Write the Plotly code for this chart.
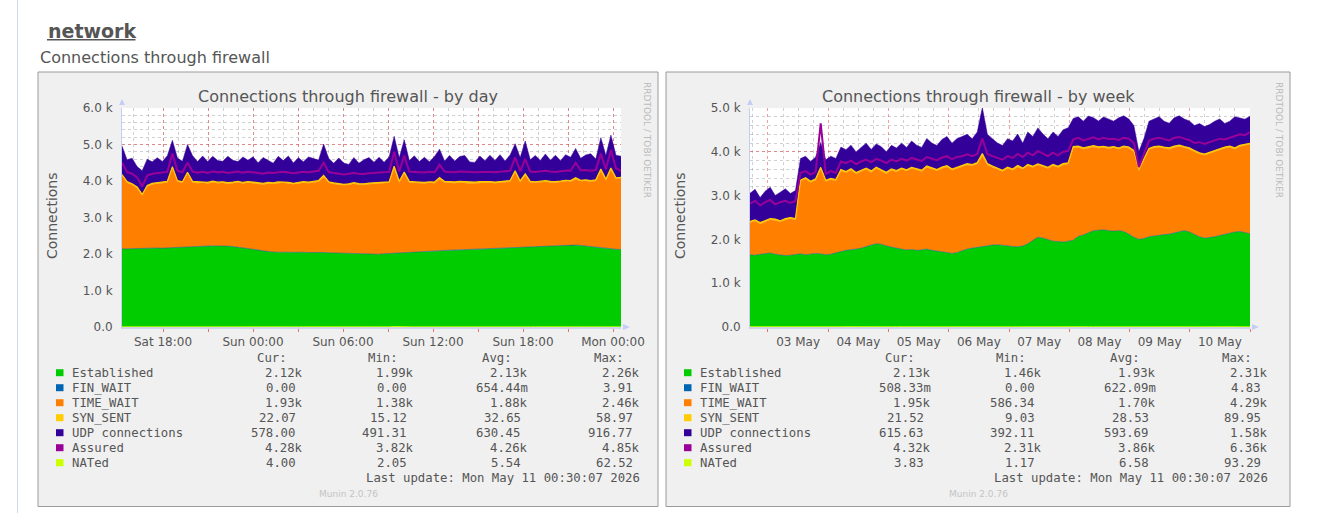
import plotly.graph_objects as go
import pandas as pd

W, H = 1331, 513

# ------------------------------------------------------------------ data
series_names = ["Established", "FIN_WAIT", "TIME_WAIT", "SYN_SENT",
                "UDP connections", "Assured", "NATed"]
series_colors = ["#00CC00", "#0066B3", "#FF8000", "#FFCC00",
                 "#330099", "#990099", "#CCFF00"]

day_start, day_end = "2026-05-09 15:16", "2026-05-11 00:32"
week_start, week_end = "2026-05-02 16:50", "2026-05-11 00:00"

day_tickvals = ["2026-05-09 18:00", "2026-05-09 21:00", "2026-05-10 00:00",
                "2026-05-10 03:00", "2026-05-10 06:00", "2026-05-10 09:00",
                "2026-05-10 12:00", "2026-05-10 15:00", "2026-05-10 18:00",
                "2026-05-10 21:00", "2026-05-11 00:00"]
day_ticktext = ["Sat 18:00", "", "Sun 00:00", "", "Sun 06:00", "",
                "Sun 12:00", "", "Sun 18:00", "", "Mon 00:00"]

day_yticks = [0, 1000, 2000, 3000, 4000, 5000, 6000]
day_ylabels = ["0.0", "1.0 k", "2.0 k", "3.0 k", "4.0 k", "5.0 k", "6.0 k"]
week_yticks = [0, 1000, 2000, 3000, 4000, 5000]
week_ylabels = ["0.0", "1.0 k", "2.0 k", "3.0 k", "4.0 k", "5.0 k"]

# ---- by day
est_day = [2140, 2150, 2145, 2150, 2155, 2150, 2160, 2165, 2160, 2170,
           2175, 2180, 2185, 2195, 2200, 2210, 2215, 2220, 2225, 2220,
           2225, 2215, 2205, 2190, 2170, 2150, 2130, 2110, 2085, 2065,
           2055, 2050, 2060, 2050, 2045, 2055, 2050, 2040, 2045, 2050,
           2040, 2035, 2030, 2025, 2020, 2015, 2020, 2010, 2005, 2010,
           2000, 1995, 2005, 2015, 2025, 2030, 2040, 2050, 2055, 2060,
           2065, 2070, 2080, 2090, 2100, 2105, 2110, 2115, 2120, 2125,
           2130, 2135, 2140, 2145, 2150, 2155, 2160, 2170, 2175, 2180,
           2190, 2195, 2200, 2205, 2210, 2215, 2220, 2230, 2240, 2255,
           2245, 2235, 2220, 2200, 2180, 2160, 2150, 2140, 2130, 2120]
fin_day = [0, 1, 0, 0, 2, 0, 1, 0, 0, 1,
           0, 0, 1, 0, 0, 1, 0, 0, 0, 1,
           0, 1, 0, 0, 1, 0, 0, 2, 0, 0,
           1, 0, 0, 1, 0, 0, 0, 1, 0, 0,
           1, 0, 0, 0, 1, 0, 2, 0, 0, 1,
           0, 0, 1, 0, 0, 1, 0, 0, 1, 0,
           0, 1, 0, 0, 0, 1, 0, 1, 0, 0,
           1, 0, 0, 1, 0, 0, 2, 0, 0, 1,
           0, 0, 1, 0, 0, 1, 0, 0, 0, 1,
           0, 1, 0, 0, 1, 0, 0, 1, 0, 0]
tw_day = [2010, 1800, 1755, 1650, 1445, 1700, 1740, 1755, 1780, 1790,
          2175, 1800, 1765, 2005, 1760, 1730, 1735, 1710, 1735, 1720,
          1725, 1705, 1735, 1770, 1760, 1800, 1810, 1810, 1815, 1865,
          1865, 1890, 1890, 1880, 1865, 1875, 1900, 1900, 1915, 1930,
          2060, 1915, 1890, 1875, 1860, 1885, 1900, 1890, 1885, 1900,
          1920, 1935, 1935, 1935, 2325, 1930, 2160, 1910, 1895, 1880,
          1865, 1880, 1860, 1960, 1860, 1845, 1830, 1845, 1830, 1805,
          1810, 1815, 1820, 1805, 1790, 1795, 1800, 1810, 2055, 1790,
          1960, 1765, 1750, 1765, 1770, 1745, 1730, 1740, 1750, 1725,
          1805, 1755, 1780, 1780, 1820, 2110, 1870, 2160, 1930, 1960]
syn_day = [28, 32, 25, 35, 30, 27, 33, 29, 36, 31,
           45, 30, 27, 40, 29, 33, 26, 31, 35, 28,
           30, 34, 27, 32, 29, 36, 31, 28, 33, 30,
           27, 35, 29, 32, 26, 30, 34, 28, 31, 33,
           50, 30, 27, 33, 29, 25, 31, 28, 32, 30,
           34, 29, 31, 27, 55, 33, 48, 30, 28, 32,
           30, 27, 33, 42, 29, 31, 35, 28, 30, 33,
           29, 32, 28, 34, 30, 31, 27, 33, 52, 30,
           45, 31, 28, 34, 30, 29, 33, 27, 31, 30,
           40, 29, 32, 28, 30, 58, 31, 56, 27, 22]
udp_day = [780, 600, 700, 560, 650, 720, 590, 690, 560, 700,
           720, 620, 560, 760, 700, 560, 710, 570, 680, 590,
           560, 720, 600, 540, 700, 580, 690, 550, 710, 600,
           540, 700, 580, 720, 560, 680, 540, 690, 620, 560,
           860, 640, 540, 700, 580, 530, 690, 560, 660, 700,
           560, 690, 540, 680, 820, 640, 880, 570, 710, 560,
           690, 550, 700, 780, 560, 720, 570, 680, 720, 560,
           540, 700, 570, 720, 590, 740, 560, 700, 740, 640,
           900, 590, 720, 560, 730, 580, 720, 560, 700, 640,
           800, 600, 680, 740, 570, 860, 650, 900, 620, 578]
assured_day = [4500, 4250, 4200, 4100, 3850, 4150, 4200, 4220, 4240, 4250,
               4750, 4280, 4240, 4500, 4260, 4230, 4250, 4220, 4260, 4240,
               4250, 4220, 4240, 4260, 4230, 4250, 4240, 4220, 4200, 4230,
               4220, 4240, 4250, 4230, 4210, 4230, 4250, 4240, 4260, 4280,
               4500, 4250, 4220, 4200, 4180, 4200, 4220, 4200, 4190, 4210,
               4220, 4230, 4240, 4250, 4800, 4260, 4700, 4260, 4250, 4240,
               4230, 4250, 4240, 4450, 4260, 4250, 4240, 4260, 4250, 4230,
               4240, 4250, 4260, 4250, 4240, 4250, 4260, 4280, 4650, 4270,
               4600, 4260, 4250, 4270, 4280, 4260, 4250, 4270, 4290, 4280,
               4500, 4290, 4300, 4280, 4300, 4750, 4320, 4850, 4350, 4280]
nated_day = [5, 4, 6, 5, 12, 4, 5, 6, 5, 4,
             6, 5, 4, 7, 5, 4, 6, 5, 4, 5,
             4, 6, 5, 4, 5, 6, 4, 5, 5, 4,
             5, 4, 6, 5, 4, 5, 6, 5, 4, 5,
             6, 5, 4, 5, 6, 4, 5, 5, 4, 6,
             5, 4, 6, 5, 14, 5, 4, 6, 5, 4,
             5, 6, 4, 5, 5, 4, 6, 5, 4, 5,
             6, 4, 5, 5, 4, 6, 5, 4, 5, 6,
             4, 5, 6, 5, 4, 5, 6, 4, 5, 5,
             4, 6, 5, 4, 5, 6, 5, 4, 5, 4]

# ---- by week
est_week = [1650, 1640, 1660, 1670, 1690, 1660, 1650, 1630, 1640, 1660,
            1670, 1650, 1660, 1680, 1670, 1650, 1660, 1700, 1720, 1750,
            1760, 1780, 1800, 1840, 1870, 1900, 1890, 1850, 1820, 1800,
            1780, 1760, 1770, 1750, 1760, 1780, 1750, 1740, 1720, 1700,
            1680, 1700, 1740, 1780, 1800, 1820, 1840, 1850, 1870, 1880,
            1860, 1850, 1840, 1830, 1850, 1900, 1980, 2050, 2030, 1990,
            1960, 1950, 1940, 1960, 1980, 2070, 2100, 2150, 2200, 2210,
            2220, 2200, 2190, 2200, 2180, 2120, 2050, 2000, 2020, 2060,
            2080, 2100, 2110, 2120, 2150, 2180, 2200, 2170, 2110, 2060,
            2030, 2040, 2060, 2090, 2120, 2150, 2170, 2180, 2160, 2130]
fin_week = [1, 0, 0, 1, 0, 2, 0, 1, 0, 0,
            1, 0, 1, 0, 0, 1, 0, 0, 2, 0,
            0, 1, 0, 1, 0, 0, 1, 0, 0, 1,
            0, 0, 1, 0, 2, 0, 1, 0, 0, 1,
            0, 1, 0, 0, 1, 0, 0, 1, 0, 0,
            1, 0, 0, 2, 0, 1, 0, 0, 1, 0,
            0, 1, 0, 0, 1, 0, 1, 0, 0, 1,
            0, 0, 1, 0, 0, 1, 0, 2, 0, 0,
            1, 0, 0, 1, 0, 0, 1, 0, 1, 0,
            0, 1, 0, 0, 1, 0, 0, 1, 0, 1]
tw_week = [730, 780, 690, 730, 760, 770, 750, 810, 830, 790,
           1660, 1730, 1640, 1670, 1930, 1670, 1700, 1640, 1840, 1770,
           1820, 1720, 1750, 1760, 1660, 1720, 1670, 1650, 1760, 1740,
           1820, 1800, 1850, 1830, 1790, 1860, 1850, 1830, 1900, 1950,
           1900, 1920, 1920, 1920, 1880, 1900, 2060, 1850, 1780, 1720,
           1690, 1770, 1740, 1820, 1750, 1780, 1660, 1650, 1630, 1630,
           1720, 1690, 1760, 1760, 2100, 2030, 1960, 1940, 1910, 1870,
           1880, 1870, 1900, 1860, 1920, 1960, 1950, 1560, 1780, 1990,
           2010, 2000, 1970, 1940, 1950, 1940, 1890, 1890, 1890, 1890,
           1890, 1920, 1940, 1960, 1960, 1950, 1890, 1940, 1990, 2040]
syn_week = [30, 25, 34, 28, 22, 31, 27, 35, 29, 26,
            24, 30, 27, 33, 45, 28, 31, 26, 35, 29,
            32, 27, 30, 25, 34, 29, 26, 31, 28, 33,
            27, 30, 24, 32, 29, 35, 28, 26, 31, 30,
            28, 33, 27, 30, 26, 32, 60, 29, 27, 31,
            25, 30, 28, 34, 27, 31, 29, 26, 33, 28,
            30, 27, 32, 29, 40, 31, 28, 26, 30, 33,
            27, 31, 29, 25, 32, 28, 30, 45, 33, 27,
            29, 32, 26, 30, 28, 31, 27, 33, 29, 25,
            28, 31, 27, 30, 26, 29, 32, 28, 25, 22]
udp_week = [640, 700, 570, 670, 720, 540, 650, 680, 550, 640,
            490, 490, 450, 500, 570, 470, 510, 480, 510, 500,
            540, 470, 520, 570, 490, 530, 530, 470, 540, 510,
            570, 510, 600, 540, 520, 630, 570, 550, 630, 670,
            590, 650, 660, 670, 590, 700, 1050, 670, 620, 570,
            570, 650, 640, 720, 570, 740, 680, 820, 710, 650,
            740, 680, 770, 800, 640, 670, 610, 700, 640, 590,
            670, 650, 580, 690, 690, 640, 570, 400, 470, 620,
            630, 670, 590, 560, 650, 670, 630, 610, 570, 670,
            630, 630, 670, 670, 540, 570, 710, 630, 570, 620]
assured_week = [2820, 2880, 2780, 2850, 2900, 2800, 2850, 2880, 2830, 2870,
                3520, 3560, 3480, 3540, 4650, 3500, 3560, 3520, 3780, 3740,
                3800, 3720, 3780, 3820, 3760, 3840, 3800, 3740, 3820, 3780,
                3840, 3800, 3860, 3820, 3790, 3880, 3840, 3810, 3870, 3900,
                3830, 3880, 3900, 3940, 3900, 3950, 4300, 3950, 3900, 3860,
                3820, 3900, 3860, 3950, 3880, 3980, 3920, 4020, 3960, 3900,
                3980, 3920, 4000, 4020, 4280, 4320, 4260, 4300, 4330, 4280,
                4320, 4290, 4300, 4270, 4320, 4300, 4200, 3650, 3950, 4250,
                4300, 4320, 4290, 4260, 4320, 4340, 4300, 4270, 4200, 4220,
                4180, 4220, 4260, 4300, 4280, 4320, 4350, 4400, 4380, 4450]
nated_week = [6, 5, 7, 6, 5, 8, 6, 5, 7, 6,
              5, 7, 6, 5, 9, 6, 7, 5, 6, 8,
              6, 5, 7, 6, 5, 6, 8, 5, 6, 7,
              5, 6, 7, 6, 5, 8, 6, 7, 5, 6,
              7, 6, 5, 7, 6, 5, 15, 6, 7, 5,
              6, 8, 5, 6, 7, 5, 6, 7, 6, 5,
              8, 6, 5, 7, 6, 5, 6, 7, 5, 6,
              7, 5, 6, 8, 6, 5, 7, 6, 5, 6,
              7, 6, 5, 6, 7, 5, 8, 6, 5, 7,
              6, 5, 7, 6, 5, 6, 7, 5, 6, 4]

day_stats = [["2.12k", "1.99k", "2.13k", "2.26k"],
             ["0.00", "0.00", "654.44m", "3.91"],
             ["1.93k", "1.38k", "1.88k", "2.46k"],
             ["22.07", "15.12", "32.65", "58.97"],
             ["578.00", "491.31", "630.45", "916.77"],
             ["4.28k", "3.82k", "4.26k", "4.85k"],
             ["4.00", "2.05", "5.54", "62.52"]]
week_stats = [["2.13k", "1.46k", "1.93k", "2.31k"],
              ["508.33m", "0.00", "622.09m", "4.83"],
              ["1.95k", "586.34", "1.70k", "4.29k"],
              ["21.52", "9.03", "28.53", "89.95"],
              ["615.63", "392.11", "593.69", "1.58k"],
              ["4.32k", "2.31k", "3.86k", "6.36k"],
              ["3.83", "1.17", "6.58", "93.29"]]
stat_headers = ["Cur:", "Min:", "Avg:", "Max:"]
last_update = "Last update: Mon May 11 00:30:07 2026"

day_cols = [est_day, fin_day, tw_day, syn_day, udp_day, assured_day, nated_day]
week_cols = [est_week, fin_week, tw_week, syn_week, udp_week, assured_week, nated_week]
for c in day_cols + week_cols:
    assert len(c) == 100, len(c)

# ------------------------------------------------------------------ helpers
# page pixel -> paper fraction (the photographed paper spans ~1307 x 499 px,
# starting ~6 px below the top of the window)
PW, PH, PTOP = 1307.0, 499.0, 6.0


def px(x):
    return x / PW


def py(y):
    return 1 - (y - PTOP) / PH


TXT = "#555555"
SANS = "DejaVu Sans"
MONO = "DejaVu Sans Mono"
RED_GRID = "rgba(235,80,80,0.55)"
GRAY_GRID = "rgba(150,150,150,0.45)"
AXIS_BLUE = "#c4cdf5"

fig = go.Figure()

day_x = pd.date_range(day_start, day_end, periods=len(est_day))
week_x = pd.date_range(week_start, week_end, periods=len(est_week))


def add_panel(xs, cols, xa, ya):
    for name, vals, color in zip(series_names[:5], cols[:5], series_colors[:5]):
        fig.add_trace(go.Scatter(
            x=xs, y=vals, xaxis=xa, yaxis=ya, name=name, stackgroup=xa,
            mode="lines", line=dict(color=color, width=1.2 if name == "SYN_SENT" else 0.5),
            fillcolor=color, hoverinfo="skip", showlegend=False))
    fig.add_trace(go.Scatter(x=xs, y=cols[5], xaxis=xa, yaxis=ya, name="Assured",
                             mode="lines", line=dict(color=series_colors[5], width=2),
                             hoverinfo="skip", showlegend=False))
    fig.add_trace(go.Scatter(x=xs, y=cols[6], xaxis=xa, yaxis=ya, name="NATed",
                             mode="lines", line=dict(color=series_colors[6], width=1),
                             hoverinfo="skip", showlegend=False))


add_panel(day_x, day_cols, "x", "y")
add_panel(week_x, week_cols, "x2", "y2")

# ------------------------------------------------------------------ axes
common_x = dict(
    type="date", showgrid=True, gridcolor=RED_GRID, griddash="dot", gridwidth=1,
    ticks="outside", ticklen=3, tickcolor="rgba(230,60,60,0.7)",
    showline=True, linecolor="#d0d4e8", linewidth=2, zeroline=False,
    layer="above traces",
    tickfont=dict(family=SANS, size=12, color=TXT), fixedrange=True,
)
common_y = dict(
    showgrid=True, gridcolor=RED_GRID, griddash="dot", gridwidth=1,
    ticks="", showline=True, linecolor=AXIS_BLUE, linewidth=1, zeroline=False,
    tickfont=dict(family=SANS, size=12, color=TXT), ticklabelstandoff=6,
    tickmode="array", minor=dict(dtick=200, showgrid=True, gridcolor=GRAY_GRID,
                                 griddash="dot", ticks=""),
    fixedrange=True,
)

plot_top, plot_bot = 107, 326
day_l, day_r = 122, 621
week_l, week_r = 750, 1250

fig.update_layout(
    xaxis=dict(common_x, domain=[px(day_l), px(day_r)], anchor="y",
               range=[day_start, day_end], tickmode="array",
               tickvals=day_tickvals, ticktext=day_ticktext,
               minor=dict(tick0="2026-05-09 00:00", dtick=3600000, showgrid=True,
                          gridcolor=GRAY_GRID, griddash="dot", ticks="")),
    yaxis=dict(common_y, domain=[py(plot_bot), py(plot_top)], anchor="x",
               range=[0, 6000], tickvals=day_yticks, ticktext=day_ylabels),
    xaxis2=dict(common_x, domain=[px(week_l), px(week_r)], anchor="y2",
                range=[week_start, week_end], tickmode="linear",
                tick0="2026-05-03", dtick=86400000, tickformat="%d %b",
                ticklabelmode="period",
                minor=dict(tick0="2026-05-03", dtick=21600000, showgrid=True,
                           gridcolor=GRAY_GRID, griddash="dot", ticks="")),
    yaxis2=dict(common_y, domain=[py(plot_bot), py(plot_top)], anchor="x2",
                range=[0, 5000], tickvals=week_yticks, ticktext=week_ylabels),
)

# ------------------------------------------------------------------ shapes
shapes = []
shapes.append(dict(type="line", xref="paper", yref="paper", x0=px(17.5), x1=px(17.5),
                   y0=-0.05, y1=1.05, line=dict(color="#cfd6ee", width=1), layer="below"))
shapes.append(dict(type="line", xref="paper", yref="paper", x0=px(47), x1=px(135.5),
                   y0=py(38.8), y1=py(38.8), line=dict(color=TXT, width=1.5), layer="below"))

panels = [
    dict(box=(38, 71, 658, 505.5), pl=day_l, pr=day_r, off=0, title="Connections through firewall - by day"),
    dict(box=(666, 71, 1290, 505.5), pl=week_l, pr=week_r, off=628, title="Connections through firewall - by week"),
]


def tri(pts):
    return "M " + " L ".join(f"{px(a):.6f} {py(b):.6f}" for a, b in pts) + " Z"


annotations = []
annotations.append(dict(xref="paper", yref="paper", x=px(46), y=py(30.5), xanchor="left",
                        yanchor="middle", showarrow=False, text="<b>network</b>",
                        font=dict(family=SANS, size=19, color=TXT)))
annotations.append(dict(xref="paper", yref="paper", x=px(37.5), y=py(56.5), xanchor="left",
                        yanchor="middle", showarrow=False, text="Connections through firewall",
                        font=dict(family=SANS, size=16, color=TXT)))

col_ends = [305, 416, 530, 642]
row_y0 = 371.7
for pi, (p, stats) in enumerate(zip(panels, [day_stats, week_stats])):
    x0, y0, x1, y1 = p["box"]
    shapes.append(dict(type="rect", xref="paper", yref="paper", x0=px(x0), x1=px(x1),
                       y0=py(y1), y1=py(y0), fillcolor="#f0f0f0",
                       line=dict(color="#9a9a9a", width=1), layer="below"))
    shapes.append(dict(type="rect", xref="paper", yref="paper", x0=px(p["pl"]), x1=px(p["pr"]),
                       y0=py(plot_bot), y1=py(plot_top), fillcolor="white",
                       line=dict(width=0), layer="below"))
    shapes.append(dict(type="path", xref="paper", yref="paper",
                       path=tri([(p["pl"] - 3, 104), (p["pl"] + 3, 104), (p["pl"], 98)]),
                       fillcolor=AXIS_BLUE, line=dict(width=0), layer="above"))
    shapes.append(dict(type="path", xref="paper", yref="paper",
                       path=tri([(p["pr"] + 2, 323), (p["pr"] + 2, 329), (p["pr"] + 9, 326)]),
                       fillcolor=AXIS_BLUE, line=dict(width=0), layer="above"))
    cx = (x0 + x1) / 2
    annotations.append(dict(xref="paper", yref="paper", x=px(cx), y=py(96), xanchor="center",
                            yanchor="middle", showarrow=False, text=p["title"],
                            font=dict(family=SANS, size=16, color=TXT)))
    annotations.append(dict(xref="paper", yref="paper", x=px(52 + p["off"]), y=py(215),
                            xanchor="center", yanchor="middle", showarrow=False,
                            text="Connections", textangle=-90,
                            font=dict(family=SANS, size=14, color=TXT)))
    annotations.append(dict(xref="paper", yref="paper", x=px(x1 - 11), y=py(139),
                            xanchor="center", yanchor="middle", showarrow=False,
                            text="RRDTOOL / TOBI OETIKER", textangle=90,
                            font=dict(family=SANS, size=9, color="#bbbbbb")))
    annotations.append(dict(xref="paper", yref="paper", x=px(cx), y=py(492.5),
                            xanchor="center", yanchor="middle", showarrow=False,
                            text="Munin 2.0.76", font=dict(family=SANS, size=9, color="#c4c4c4")))
    off = p["off"]
    for ce, hdr in zip(col_ends, stat_headers):
        annotations.append(dict(xref="paper", yref="paper", x=px(ce + off - 16), y=py(356.7),
                                xanchor="right", yanchor="middle", showarrow=False, text=hdr,
                                font=dict(family=MONO, size=12.3, color=TXT)))
    for ri, (name, color, vals) in enumerate(zip(series_names, series_colors, stats)):
        ry = row_y0 + 15 * ri
        shapes.append(dict(type="rect", xref="paper", yref="paper",
                           x0=px(56 + off), x1=px(63.5 + off), y0=py(ry + 3.5), y1=py(ry - 3.5),
                           fillcolor=color, line=dict(width=0), layer="above"))
        annotations.append(dict(xref="paper", yref="paper", x=px(70 + off), y=py(ry),
                                xanchor="left", yanchor="middle", showarrow=False, text=name,
                                font=dict(family=MONO, size=12.3, color=TXT)))
        for ce, v in zip(col_ends, vals):
            t = v if v[-1].isalpha() else v + "\u00a0"
            annotations.append(dict(xref="paper", yref="paper", x=px(ce + off), y=py(ry),
                                    xanchor="right", yanchor="middle", showarrow=False, text=t,
                                    font=dict(family=MONO, size=12.3, color=TXT)))
    annotations.append(dict(xref="paper", yref="paper", x=px(642 + off), y=py(476.7),
                            xanchor="right", yanchor="middle", showarrow=False, text=last_update,
                            font=dict(family=MONO, size=12.3, color=TXT)))

fig.update_layout(
    width=W, height=H, autosize=False, margin=dict(l=0, r=0, t=0, b=0, pad=0),
    paper_bgcolor="white", plot_bgcolor="rgba(0,0,0,0)",
    showlegend=False, shapes=shapes, annotations=annotations,
    font=dict(family=SANS, color=TXT),
)

fig.write_html("out.html", config=dict(displayModeBar=False))
